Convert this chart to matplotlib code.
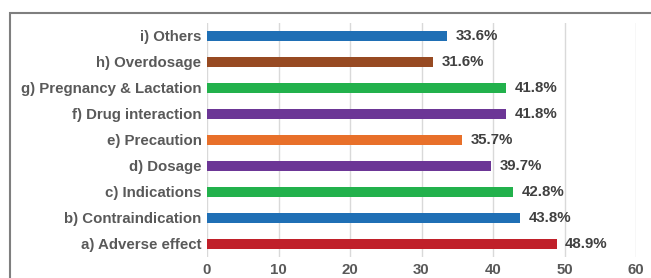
import matplotlib.pyplot as plt
from matplotlib.patches import Rectangle

categories = ['a) Adverse effect', 'b) Contraindication', 'c) Indications', 'd) Dosage',
              'e) Precaution', 'f) Drug interaction', 'g) Pregnancy & Lactation',
              'h) Overdosage', 'i) Others']
values = [48.9, 43.8, 42.8, 39.7, 35.7, 41.8, 41.8, 31.6, 33.6]
colors = ['#c0202a', '#1f6fb5', '#22b14c', '#6c3696', '#e8702a', '#6c3696', '#22b14c',
          '#974a22', '#1f6fb5']
xticks = [0, 10, 20, 30, 40, 50, 60]

plt.rcParams['font.family'] = ['Liberation Sans', 'DejaVu Sans']

fig = plt.figure(figsize=(6.51, 2.78), dpi=100)
ax = fig.add_axes([207 / 651, 1 - 257 / 278, (636 - 207) / 651, 234 / 278])

# outer frame, runs off the right and bottom edges
fig.patches.append(Rectangle((10 / 651, -0.1), 1.0, 1 - 13 / 278 + 0.1,
                             transform=fig.transFigure, fill=False,
                             edgecolor='#7f7f7f', linewidth=1.5))

y = range(len(categories))
ax.barh(y, values, height=0.4, color=colors, zorder=3)
for yi, v in zip(y, values):
    ax.text(v + 1.2, yi, f'{v:.1f}%', va='center', ha='left', fontsize=10.8,
            fontweight='bold', color='#404040')

ax.set_xlim(0, 60)
ax.set_ylim(-0.5, len(categories) - 0.5)
ax.set_xticks(xticks)
ax.set_yticks(list(y))
ax.set_yticklabels(categories)
ax.grid(axis='x', color='#d9d9d9', linewidth=1, zorder=0)
ax.tick_params(length=0, labelsize=10.8, labelcolor='#595959', pad=4)
for lab in ax.get_xticklabels() + ax.get_yticklabels():
    lab.set_fontweight('bold')
for s in ax.spines.values():
    s.set_visible(False)

fig.savefig('out.png', dpi=100)
